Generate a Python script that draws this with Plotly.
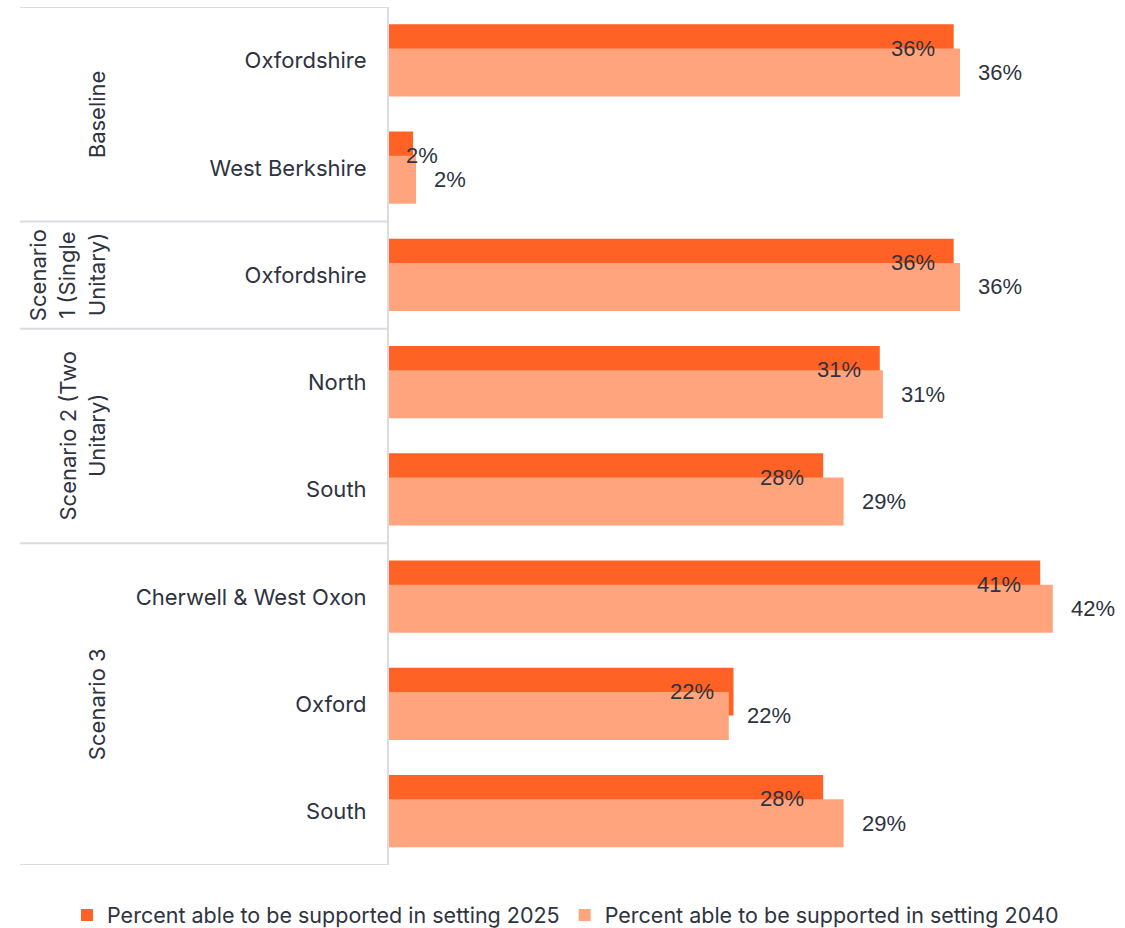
import plotly.graph_objects as go

# Data: share of people able to be supported in setting, by area and scenario
areas = ["Oxfordshire", "West Berkshire", "Oxfordshire", "North", "South",
         "Cherwell & West Oxon", "Oxford", "South"]
pct_2025 = [0.359, 0.0153, 0.359, 0.312, 0.276, 0.414, 0.219, 0.276]
pct_2040 = [0.363, 0.0172, 0.363, 0.314, 0.289, 0.422, 0.216, 0.289]

# Scenario groups: (label lines, first row, last row)
groups = [
    (["Baseline"], 0, 1),
    (["Scenario", "1 (Single", "Unitary)"], 2, 2),
    (["Scenario 2 (Two", "Unitary)"], 3, 4),
    (["Scenario 3"], 5, 7),
]

series_names = ["Percent able to be supported in setting 2025",
                "Percent able to be supported in setting 2040"]
colors = ["#FF6224", "#FFA47C"]
text_color = "#2E3340"
line_color = "#DADCE2"

W, H = 1125, 928
ML, MR, MT, MB = 389, 35, 7, 63
plot_w = W - ML - MR
plot_h = H - MT - MB
rows = list(range(len(areas)))

bar_w = 0.447
off_2025 = -0.34
off_2040 = -0.113

fig = go.Figure()
fig.add_trace(go.Bar(
    y=rows, x=pct_2025, orientation="h", name=series_names[0],
    marker=dict(color=colors[0], line=dict(width=0)),
    width=bar_w, offset=off_2025, hoverinfo="x",
))
fig.add_trace(go.Bar(
    y=rows, x=pct_2040, orientation="h", name=series_names[1],
    marker=dict(color=colors[1], line=dict(width=0)),
    width=bar_w, offset=off_2040, hoverinfo="x",
))

annotations = []
label_font = dict(family="Liberation Sans, Arial, sans-serif", size=22, color=text_color)

# 2025 labels sit inside the bar end; 2040 labels sit just outside
for i, v in enumerate(pct_2025):
    yc = i + off_2025 + bar_w / 2
    if v < 0.05:
        annotations.append(dict(x=0, y=yc, xref="x", yref="y", text=f"{v:.0%}",
                                showarrow=False, xanchor="left", yanchor="middle",
                                xshift=15, font=label_font))
    else:
        annotations.append(dict(x=v, y=yc, xref="x", yref="y", text=f"{v:.0%}",
                                showarrow=False, xanchor="right", yanchor="middle",
                                xshift=-17, font=label_font))
for i, v in enumerate(pct_2040):
    yc = i + off_2040 + bar_w / 2
    annotations.append(dict(x=v, y=yc, xref="x", yref="y", text=f"{v:.0%}",
                            showarrow=False, xanchor="left", yanchor="middle",
                            xshift=16, font=label_font))

# Rotated scenario group labels, last line nearest the category labels
group_font = dict(family="Inter, sans-serif", size=22, color=text_color)
last_line_px = 97
line_step = 29.5
for lines, r0, r1 in groups:
    yc = (r0 + r1) / 2
    n = len(lines)
    for k, txt in enumerate(lines):
        px = last_line_px - (n - 1 - k) * line_step
        annotations.append(dict(x=(px - ML) / plot_w, y=yc, xref="paper", yref="y",
                                text=txt, showarrow=False, textangle=-90,
                                xanchor="center", yanchor="middle", font=group_font))

# Table-style separators between scenario groups
shapes = []
x_left = (20 - ML) / plot_w
bounds = sorted({-0.5} | {g[2] + 0.5 for g in groups})
for b in bounds:
    shapes.append(dict(type="line", xref="paper", yref="y", x0=x_left, x1=0,
                       y0=b, y1=b, line=dict(color=line_color, width=2)))

fig.update_layout(
    width=W, height=H,
    margin=dict(l=ML, r=MR, t=MT, b=MB, autoexpand=False),
    paper_bgcolor="white", plot_bgcolor="white",
    barmode="overlay",
    font=dict(family="Inter, sans-serif", size=22, color=text_color),
    xaxis=dict(range=[0, plot_w / 1573], visible=False, showgrid=False, zeroline=False),
    yaxis=dict(range=[len(areas) - 0.5, -0.5], tickvals=rows, ticktext=areas,
               showgrid=False, zeroline=False, showline=True,
               linecolor=line_color, linewidth=2, ticks="",
               ticklabelstandoff=16,
               tickfont=dict(family="Inter, sans-serif", size=22, color=text_color)),
    legend=dict(orientation="h", xref="paper", yref="paper",
                x=(67 - ML) / plot_w, y=-50 / plot_h, xanchor="left", yanchor="middle",
                font=dict(family="Inter, sans-serif", size=21.5, color=text_color),
                itemclick=False, traceorder="normal", bgcolor="rgba(0,0,0,0)"),
    annotations=annotations,
    shapes=shapes,
    showlegend=True,
)

fig.write_html("out.html")
